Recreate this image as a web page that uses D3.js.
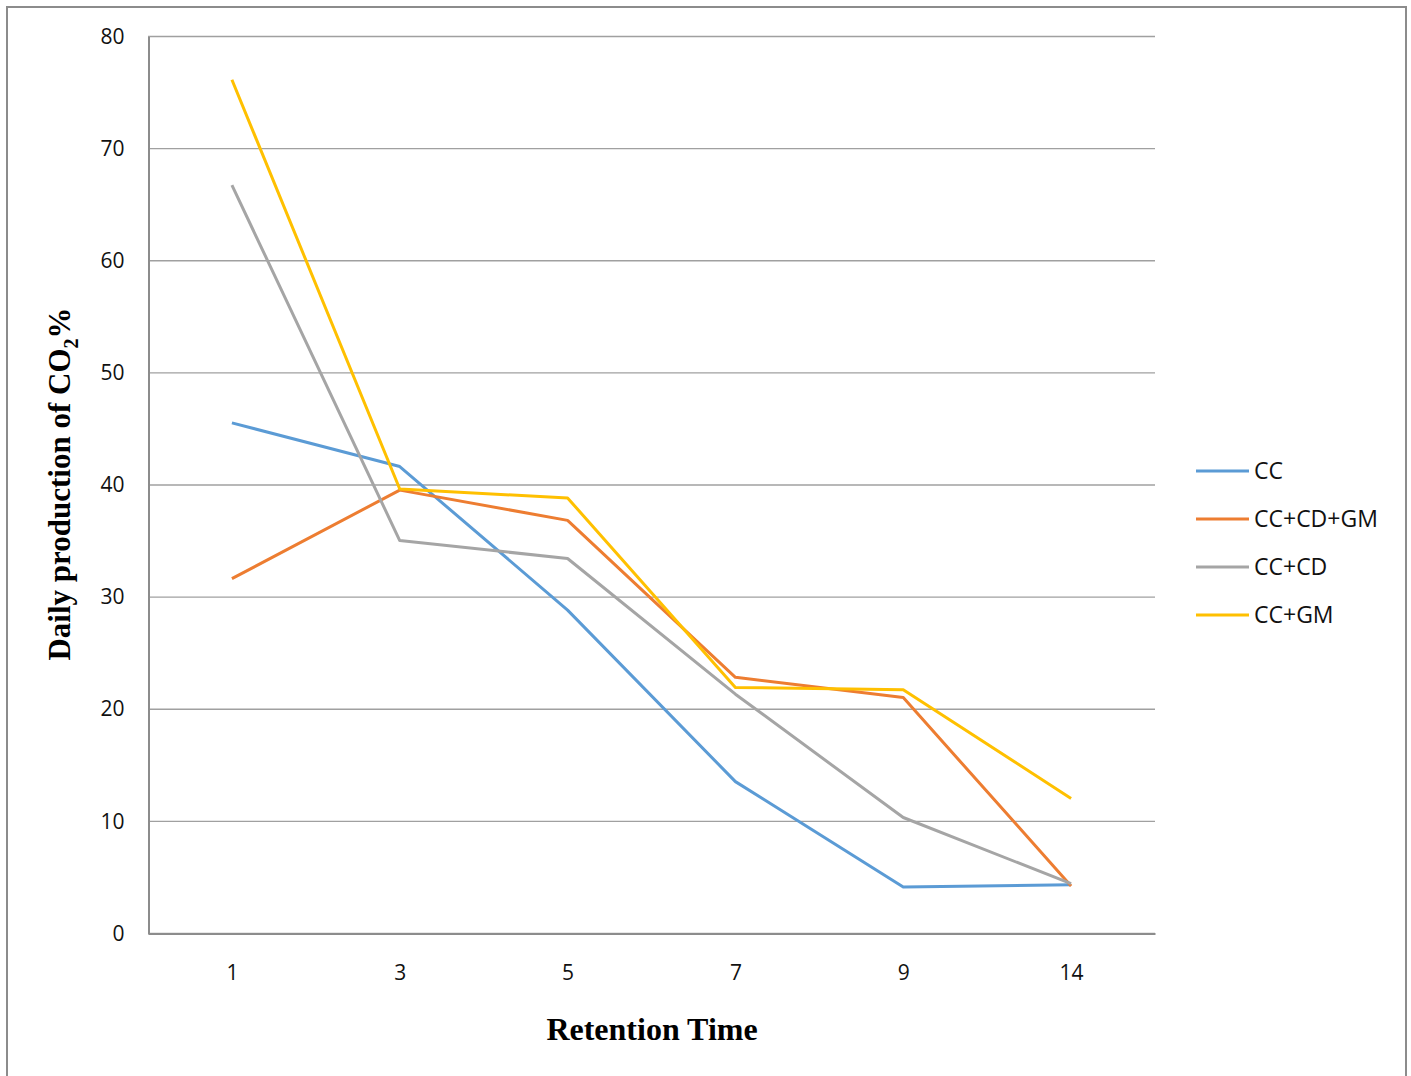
<!DOCTYPE html>
<html>
<head>
<meta charset="utf-8">
<script src="https://cdn.jsdelivr.net/npm/d3@7"></script>
<style>
  body { margin: 0; background: #fff; }
  svg { display: block; }
</style>
</head>
<body>
<div class="visHolder"></div>
<script>
// data
let days = ["1", "3", "5", "7", "9", "14"];
let seriesNames = ["CC", "CC+CD+GM", "CC+CD", "CC+GM"];
let ccValues = [45.5, 41.6, 28.8, 13.5, 4.1, 4.3];
let ccCdGmValues = [31.6, 39.5, 36.8, 22.8, 21.0, 4.2];
let ccCdValues = [66.7, 35.0, 33.4, 21.3, 10.3, 4.4];
let ccGmValues = [76.1, 39.6, 38.8, 21.9, 21.7, 12.0];
let yTicks = [0, 10, 20, 30, 40, 50, 60, 70, 80];

let colors = ["#5B9BD5", "#ED7D31", "#A5A5A5", "#FFC000"];
let allValues = [ccValues, ccCdGmValues, ccCdValues, ccGmValues];

let width = 1411;
let height = 1076;
let plotLeft = 148, plotRight = 1155, plotTop = 36, plotBottom = 933;

let svg = d3
  .select(".visHolder")
  .append("svg")
  .attr("width", width)
  .attr("height", height);

// outer frame
svg.append("rect")
  .attr("x", 7)
  .attr("y", 7)
  .attr("width", 1399)
  .attr("height", 1090)
  .attr("fill", "none")
  .attr("stroke", "#8c8c8c")
  .attr("stroke-width", 2);

let xScale = d3.scalePoint()
  .domain(days)
  .range([plotLeft, plotRight])
  .padding(0.5);

let yScale = d3.scaleLinear()
  .domain([0, 80])
  .range([plotBottom, plotTop]);

// gridlines
svg.append("g")
  .selectAll("line")
  .data(yTicks)
  .enter()
  .append("line")
  .attr("x1", plotLeft)
  .attr("x2", plotRight)
  .attr("y1", d => yScale(d) + 0.5)
  .attr("y2", d => yScale(d) + 0.5)
  .attr("stroke", "#a0a0a0")
  .attr("stroke-width", 1.3);

// y axis
let yAxis = d3.axisLeft(yScale).tickValues(yTicks).tickSize(0).tickPadding(24);
let yG = svg.append("g")
  .attr("transform", "translate(" + (plotLeft + 0.5) + ",0.5)")
  .call(yAxis);
yG.select(".domain").attr("stroke", "#8c8c8c").attr("stroke-width", 2);
yG.selectAll("text")
  .attr("font-family", "'Open Sans', sans-serif")
  .attr("font-size", 21)
  .attr("fill", "#111");

// x axis
let xAxis = d3.axisBottom(xScale).tickSize(0).tickPadding(32);
let xG = svg.append("g")
  .attr("transform", "translate(0," + (plotBottom + 0.5) + ")")
  .call(xAxis);
xG.select(".domain").attr("stroke", "#8c8c8c").attr("stroke-width", 2);
xG.selectAll("text")
  .attr("font-family", "'Open Sans', sans-serif")
  .attr("font-size", 21)
  .attr("fill", "#111");

// lines
let line = d3.line()
  .x((d, i) => xScale(days[i]))
  .y(d => yScale(d));

svg.append("g")
  .selectAll("path")
  .data(allValues)
  .enter()
  .append("path")
  .attr("d", d => line(d))
  .attr("fill", "none")
  .attr("stroke", (d, i) => colors[i])
  .attr("stroke-width", 3)
  .attr("stroke-linejoin", "round");

// legend
let legend = svg.append("g")
  .selectAll("g")
  .data(seriesNames)
  .enter()
  .append("g")
  .attr("transform", (d, i) => "translate(1196," + (471 + i * 48) + ")");

legend.append("line")
  .attr("x1", 0)
  .attr("x2", 53)
  .attr("stroke", (d, i) => colors[i])
  .attr("stroke-width", 3);

legend.append("text")
  .attr("x", 58)
  .attr("dy", "0.35em")
  .attr("font-family", "'Open Sans', sans-serif")
  .attr("font-size", 23)
  .attr("fill", "#111")
  .text(d => d);

// axis titles
svg.append("text")
  .attr("x", 652)
  .attr("y", 1040)
  .attr("text-anchor", "middle")
  .attr("font-family", "'Liberation Serif', serif")
  .attr("font-weight", "bold")
  .attr("font-size", 32)
  .attr("fill", "#000")
  .text("Retention Time");

let yTitle = svg.append("text")
  .attr("transform", "translate(70,484) rotate(-90)")
  .attr("text-anchor", "middle")
  .attr("font-family", "'Liberation Serif', serif")
  .attr("font-weight", "bold")
  .attr("font-size", 31)
  .attr("fill", "#000");
yTitle.append("tspan").text("Daily production of CO");
yTitle.append("tspan").attr("font-size", 20).attr("dy", 8).text("2");
yTitle.append("tspan").attr("dy", -8).text("%");
</script>
</body>
</html>
